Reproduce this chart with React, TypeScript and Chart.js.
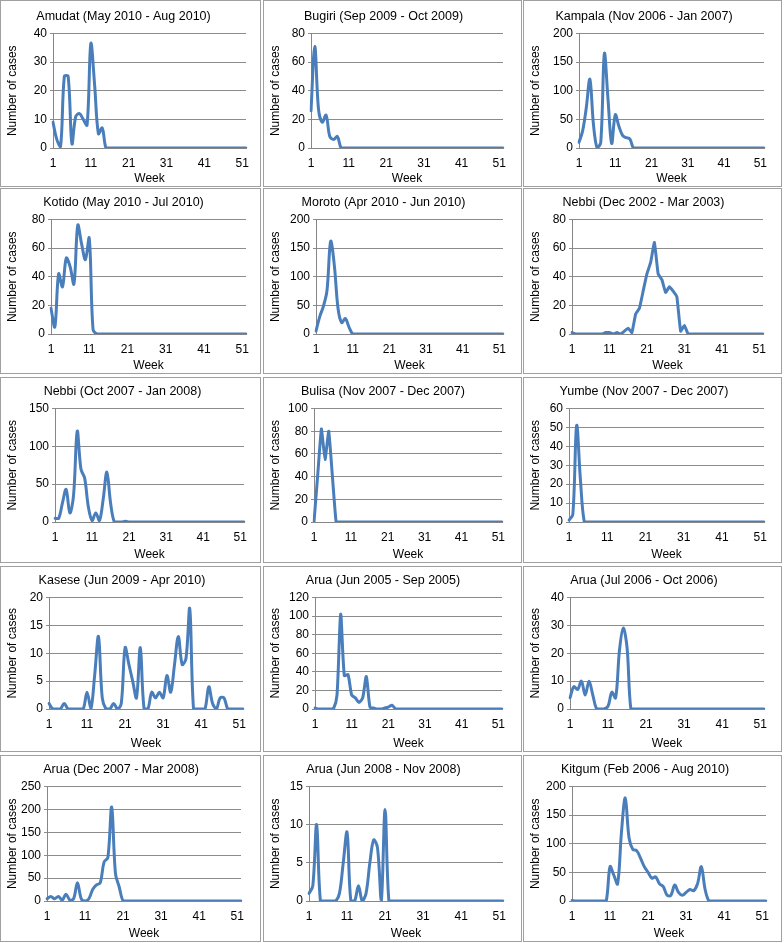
import React, { useEffect, useRef } from "react";
import { Chart, registerables } from "chart.js";

Chart.register(...registerables);

const FONT = "'Liberation Sans', Arial, Helvetica, sans-serif";

const weeks = [
  "1","2","3","4","5","6","7","8","9","10",
  "11","12","13","14","15","16","17","18","19","20",
  "21","22","23","24","25","26","27","28","29","30",
  "31","32","33","34","35","36","37","38","39","40",
  "41","42","43","44","45","46","47","48","49","50",
  "51","52",
];
const xTickLabels = ["1", "11", "21", "31", "41", "51"];

const amudat = [9,3,0.5,25,25,1.5,11,12,10,8, 36.5,22,5,7,0,0,0,0,0,0, 0,0,0,0,0,0,0,0,0,0, 0,0,0,0,0,0,0,0,0,0, 0,0,0,0,0,0,0,0,0,0, 0,0];
const bugiri = [26,71,27,18,23,8,6,8,0,0, 0,0,0,0,0,0,0,0,0,0, 0,0,0,0,0,0,0,0,0,0, 0,0,0,0,0,0,0,0,0,0, 0,0,0,0,0,0,0,0,0,0, 0,0];
const kampala = [10,30,70,120,40,0,10,165,85,8, 58,38,22,18,16,0,0,0,0,0, 0,0,0,0,0,0,0,0,0,0, 0,0,0,0,0,0,0,0,0,0, 0,0,0,0,0,0,0,0,0,0, 0,0];
const kotido = [18,5,42,33,53,47,35,76,63,52, 67,3,0,0,0,0,0,0,0,0, 0,0,0,0,0,0,0,0,0,0, 0,0,0,0,0,0,0,0,0,0, 0,0,0,0,0,0,0,0,0,0, 0,0];
const moroto = [5,30,48,76,162,120,45,20,27,12, 0,0,0,0,0,0,0,0,0,0, 0,0,0,0,0,0,0,0,0,0, 0,0,0,0,0,0,0,0,0,0, 0,0,0,0,0,0,0,0,0,0, 0,0];
const nebbi2002 = [1,0,0,0,0,0,0,0,0,1, 1,0,1,0,2,4,1,14,18,30, 42,50,64,42,38,29,33,30,26,2, 6,0,0,0,0,0,0,0,0,0, 0,0,0,0,0,0,0,0,0,0, 0,0];
const nebbi2007 = [5,5,25,43,12,35,120,70,58,20, 2,12,2,30,66,25,0,0,0,1, 0,0,0,0,0,0,0,0,0,0, 0,0,0,0,0,0,0,0,0,0, 0,0,0,0,0,0,0,0,0,0, 0,0];
const bulisa = [0,41,82,55,80,40,0,0,0,0, 0,0,0,0,0,0,0,0,0,0, 0,0,0,0,0,0,0,0,0,0, 0,0,0,0,0,0,0,0,0,0, 0,0,0,0,0,0,0,0,0,0, 0,0];
const yumbe = [1,4,51,22,0,0,0,0,0,0, 0,0,0,0,0,0,0,0,0,0, 0,0,0,0,0,0,0,0,0,0, 0,0,0,0,0,0,0,0,0,0, 0,0,0,0,0,0,0,0,0,0, 0,0];
const kasese = [1,0,0,0,1,0,0,0,0,0, 3,0,6,13,2,0,0,1,0,1, 11,8,5,2,11,0,0,3,2,3, 2,6,3,8,13,8,9,18,0,0, 0,0,4,1,0,2,2,0,0,0, 0,0];
const arua2005 = [1,0,0,0,0,0,15,102,36,37, 15,12,7,12,35,2,1,0,0,1, 2,4,0,0,0,0,0,0,0,0, 0,0,0,0,0,0,0,0,0,0, 0,0,0,0,0,0,0,0,0,0, 0,0];
const arua2006 = [4,8,7,10,5,10,5,0,0,0, 1,6,4,21,29,22,0,0,0,0, 0,0,0,0,0,0,0,0,0,0, 0,0,0,0,0,0,0,0,0,0, 0,0,0,0,0,0,0,0,0,0, 0,0];
const arua2007 = [5,10,5,10,2,15,2,5,40,5, 0,5,25,35,40,85,95,205,60,30, 0,0,0,0,0,0,0,0,0,0, 0,0,0,0,0,0,0,0,0,0, 0,0,0,0,0,0,0,0,0,0, 0,0];
const arua2008 = [1,2,10,0,0,0,0,0,1,5, 9,0,0,2,0,1,5,8,7,0, 12,0,0,0,0,0,0,0,0,0, 0,0,0,0,0,0,0,0,0,0, 0,0,0,0,0,0,0,0,0,0, 0,0];
const kitgum = [1,0,0,0,0,0,0,0,0,0, 60,45,30,120,180,110,90,88,75,60, 50,40,42,30,25,10,10,28,15,10, 15,20,18,30,60,20,0,0,0,0, 0,0,0,0,0,0,0,0,0,0, 0,0];

const panels = [
  { title: "Amudat (May 2010 - Aug 2010)", data: amudat, max: 40, step: 10, yw: 52, rp: 14, t: 0.35 },
  { title: "Bugiri (Sep 2009 - Oct 2009)", data: bugiri, max: 80, step: 20, yw: 47, rp: 18, t: 0.35 },
  { title: "Kampala (Nov 2006 - Jan 2007)", data: kampala, max: 200, step: 50, yw: 55, rp: 17, t: 0.35 },
  { title: "Kotido (May 2010 - Jul 2010)", data: kotido, max: 80, step: 20, yw: 50, rp: 14, t: 0.35 },
  { title: "Moroto (Apr 2010 - Jun 2010)", data: moroto, max: 200, step: 50, yw: 52, rp: 18, t: 0.35 },
  { title: "Nebbi (Dec 2002 - Mar 2003)", data: nebbi2002, max: 80, step: 20, yw: 48, rp: 18, t: 0.1 },
  { title: "Nebbi (Oct 2007 - Jan 2008)", data: nebbi2007, max: 150, step: 50, yw: 54, rp: 16, t: 0.35 },
  { title: "Bulisa (Nov 2007 - Dec 2007)", data: bulisa, max: 100, step: 20, yw: 50, rp: 19, t: 0.1 },
  { title: "Yumbe (Nov 2007 - Dec 2007)", data: yumbe, max: 60, step: 10, yw: 45, rp: 17, t: 0.35 },
  { title: "Kasese (Jun 2009 - Apr 2010)", data: kasese, max: 20, step: 5, yw: 48, rp: 17, t: 0.35 },
  { title: "Arua (Jun 2005 - Sep 2005)", data: arua2005, max: 120, step: 20, yw: 51, rp: 19, t: 0.25 },
  { title: "Arua (Jul 2006 - Oct 2006)", data: arua2006, max: 40, step: 10, yw: 46, rp: 17, t: 0.35 },
  { title: "Arua (Dec 2007 - Mar 2008)", data: arua2007, max: 250, step: 50, yw: 46, rp: 19, t: 0.35 },
  { title: "Arua (Jun 2008 - Nov 2008)", data: arua2008, max: 15, step: 5, yw: 45, rp: 18, t: 0.35 },
  { title: "Kitgum (Feb 2006 - Aug 2010)", data: kitgum, max: 200, step: 50, yw: 48, rp: 15, t: 0.35 },
];

const colLeft = [0, 263, 523];
const colWidth = [261, 259, 259];
const rowTop = [0, 188, 377, 566, 755];
const rowHeight = [187, 186, 186, 186, 187];
const rowXScaleH = [38, 39, 40, 42, 40];
const rowTitleTop = [8, 6, 6, 6, 6];

type P = (typeof panels)[number];

function Panel({ p, left, top, width, height, xh, tt }: { p: P; left: number; top: number; width: number; height: number; xh: number; tt: number }) {
  const ref = useRef<HTMLCanvasElement>(null);
  useEffect(() => {
    if (!ref.current) return;
    const font = { family: FONT, size: 12 };
    const chart = new Chart(ref.current, {
      type: "line",
      data: {
        labels: weeks,
        datasets: [
          {
            data: p.data,
            borderColor: "#4A7EBB",
            backgroundColor: "#4A7EBB",
            borderWidth: 3,
            pointRadius: 0,
            tension: p.t,
            fill: false,
            borderCapStyle: "round",
            borderJoinStyle: "round",
          },
        ],
      },
      options: {
        animation: false,
        responsive: false,
        layout: { padding: { top: 0, right: p.rp, bottom: 0, left: 0 } },
        plugins: {
          legend: { display: false },
          tooltip: { enabled: false },
          title: {
            display: true,
            text: p.title,
            color: "#000",
            font: { family: FONT, size: 12.5, weight: "normal" },
            padding: { top: tt, bottom: 9.5 },
          },
        },
        scales: {
          x: {
            type: "category",
            offset: false,
            grid: { display: false, drawTicks: false },
            border: { display: true, color: "#868686", width: 1 },
            ticks: {
              autoSkip: false,
              maxRotation: 0,
              minRotation: 0,
              padding: 8,
              color: "#000",
              font,
              callback: (_v: any, i: number) => (i % 10 === 0 ? xTickLabels[i / 10] : ""),
            },
            title: { display: true, text: "Week", color: "#000", font, padding: { top: 3, bottom: 0 } },
            afterFit: (s: any) => {
              s.height = xh;
            },
          },
          y: {
            min: 0,
            max: p.max,
            ticks: { stepSize: p.step, padding: 3, color: "#000", font },
            grid: { color: "#8c8c8c", lineWidth: 1, drawTicks: true, tickLength: 3 },
            border: { display: true, color: "#868686", width: 1 },
            title: { display: true, text: "Number of cases", color: "#000", font, padding: { top: 4.5, bottom: 0 } },
            afterFit: (s: any) => {
              s.width = p.yw;
            },
          },
        },
      },
    } as any);
    return () => chart.destroy();
  }, [p, xh, tt]);
  return (
    <div
      style={{
        position: "absolute",
        left,
        top,
        width,
        height,
        border: "1px solid #a0a0a0",
        boxSizing: "border-box",
        background: "#fff",
      }}
    >
      <canvas ref={ref} width={width - 2} height={height - 2} style={{ display: "block", width: width - 2, height: height - 2 }} />
    </div>
  );
}

export default function App() {
  return (
    <div style={{ position: "absolute", left: 0, top: 0, width: 784, height: 943, background: "#fff" }}>
      {panels.map((p, i) => {
        const r = Math.floor(i / 3);
        const c = i % 3;
        return (
          <Panel
            key={i}
            p={p}
            left={colLeft[c]}
            top={rowTop[r]}
            width={colWidth[c]}
            height={rowHeight[r]}
            xh={rowXScaleH[r]}
            tt={rowTitleTop[r]}
          />
        );
      })}
    </div>
  );
}
